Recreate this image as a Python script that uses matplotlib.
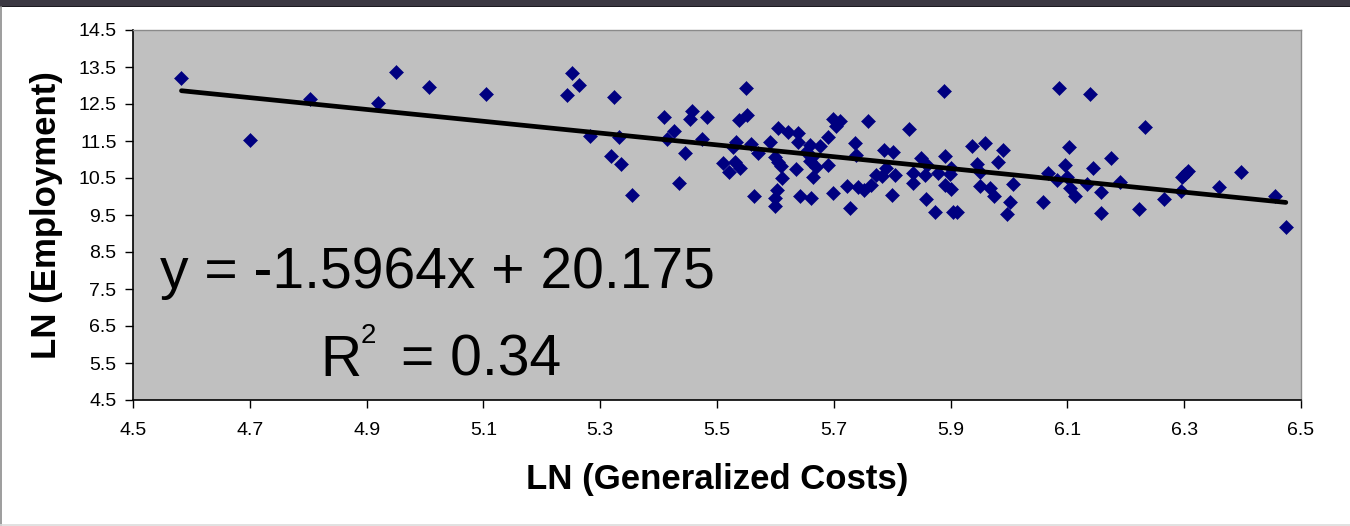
import numpy as np
import matplotlib
matplotlib.use("Agg")
import matplotlib.pyplot as plt
from matplotlib.patches import Rectangle

# ---- data: natural logs of generalized costs and employment ----
ln_costs = [
    4.583, 4.700, 4.803, 4.920, 4.950, 5.007, 5.105, 5.243, 5.252, 5.263,
    5.283, 5.318, 5.324, 5.333, 5.336, 5.354, 5.409, 5.415, 5.426, 5.435,
    5.445, 5.453, 5.457, 5.475, 5.483, 5.510, 5.521, 5.528, 5.531, 5.539,
    5.533, 5.538, 5.551, 5.549, 5.559, 5.564, 5.571, 5.590, 5.599, 5.605,
    5.610, 5.612, 5.602, 5.599, 5.599, 5.604, 5.622, 5.639, 5.638, 5.636,
    5.642, 5.661, 5.653, 5.659, 5.662, 5.659, 5.670, 5.665, 5.676, 5.690,
    5.690, 5.698, 5.704, 5.711, 5.698, 5.722, 5.727, 5.736, 5.738, 5.742,
    5.751, 5.759, 5.763, 5.772, 5.783, 5.786, 5.790, 5.799, 5.802, 5.805,
    5.828, 5.835, 5.835, 5.850, 5.859, 5.856, 5.858, 5.873, 5.879, 5.888,
    5.891, 5.890, 5.900, 5.901, 5.899, 5.904, 5.911, 5.936, 5.946, 5.950,
    5.950, 5.959, 5.967, 5.974, 5.982, 5.989, 5.997, 6.002, 6.007, 6.058,
    6.067, 6.082, 6.086, 6.096, 6.099, 6.102, 6.105, 6.113, 6.134, 6.139,
    6.144, 6.157, 6.157, 6.175, 6.190, 6.222, 6.233, 6.266, 6.294, 6.297,
    6.301, 6.307, 6.360, 6.397, 6.455, 6.474,
]
ln_employment = [
    13.21, 11.53, 12.64, 12.54, 13.37, 12.97, 12.77, 12.74, 13.33, 13.01,
    11.64, 11.09, 12.70, 11.62, 10.89, 10.05, 12.14, 11.55, 11.78, 10.37,
    11.17, 12.09, 12.31, 11.55, 12.14, 10.90, 10.65, 11.35, 10.94, 10.76,
    11.48, 12.07, 12.20, 12.94, 11.42, 10.01, 11.18, 11.46, 11.08, 10.94,
    10.82, 10.49, 10.18, 9.95, 9.74, 11.84, 11.74, 11.71, 11.48, 10.74,
    10.01, 9.97, 11.21, 11.39, 11.08, 10.97, 10.79, 10.52, 11.36, 11.62,
    10.85, 12.09, 11.91, 12.05, 10.09, 10.28, 9.70, 11.44, 11.12, 10.27,
    10.18, 12.05, 10.31, 10.58, 10.55, 11.26, 10.76, 10.04, 11.21, 10.58,
    11.82, 10.64, 10.37, 11.03, 10.85, 10.58, 9.92, 9.57, 10.63, 12.86,
    11.09, 10.31, 10.20, 10.76, 10.60, 9.57, 9.57, 11.36, 10.88, 10.67,
    10.29, 11.45, 10.22, 10.01, 10.94, 11.26, 9.53, 9.84, 10.33, 9.84,
    10.63, 10.45, 12.93, 10.85, 10.54, 11.33, 10.22, 10.01, 10.33, 12.77,
    10.78, 10.13, 9.56, 11.05, 10.40, 9.65, 11.89, 9.93, 10.15, 10.54,
    10.61, 10.69, 10.25, 10.65, 10.02, 9.18,
]

# linear trend reported on the chart
slope = -1.5964
intercept = 20.175
r_squared = 0.34

x_ticks = [4.5, 4.7, 4.9, 5.1, 5.3, 5.5, 5.7, 5.9, 6.1, 6.3, 6.5]
y_ticks = [4.5, 5.5, 6.5, 7.5, 8.5, 9.5, 10.5, 11.5, 12.5, 13.5, 14.5]

FONT = ["Liberation Sans", "DejaVu Sans"]
plt.rcParams["font.family"] = FONT

W, H = 1350, 526
fig = plt.figure(figsize=(W / 100, H / 100), dpi=100)
fig.patch.set_facecolor("white")

# window strip along the top and light frame lines
fig.patches.append(Rectangle((0, 1 - 7 / H), 1, 7 / H, transform=fig.transFigure,
                             facecolor="#3b3842", edgecolor="none", zorder=0))
fig.patches.append(Rectangle((0, 1 - 7 / H), 1, 1.5 / H, transform=fig.transFigure,
                             facecolor="#1c1a20", edgecolor="none", zorder=0))
fig.add_artist(plt.Line2D([0.6 / W, 0.6 / W], [0, 1 - 7 / H], transform=fig.transFigure,
                          color="#8c8c8c", lw=1.2))
fig.add_artist(plt.Line2D([0, 1], [1.5 / H, 1.5 / H], transform=fig.transFigure,
                          color="#dcdcdc", lw=1.2))

left, right, top, bottom = 133, 1301, 30, 400
ax = fig.add_axes([left / W, 1 - bottom / H, (right - left) / W, (bottom - top) / H])
ax.set_facecolor("#c0c0c0")
ax.set_xlim(4.5, 6.5)
ax.set_ylim(4.5, 14.5)

ax.plot(ln_costs, ln_employment, linestyle="none", marker="D", markersize=7.0,
        markerfacecolor="#000080", markeredgecolor="#000080", markeredgewidth=0.4,
        zorder=3)

xs = np.array([min(ln_costs), max(ln_costs)])
ax.plot(xs, slope * xs + intercept, color="black", lw=3.4, solid_capstyle="round",
        zorder=4)

ax.set_xticks(x_ticks)
ax.set_xticklabels([f"{v:.1f}" for v in x_ticks])
ax.set_yticks(y_ticks)
ax.set_yticklabels([f"{v:.1f}" for v in y_ticks])
ax.tick_params(axis="both", direction="out", length=5.8, width=1.0, colors="black",
               labelsize=14)
ax.tick_params(axis="x", pad=10)
ax.tick_params(axis="y", pad=6)

for side in ("top", "right"):
    ax.spines[side].set_color("#8a8a8a")
    ax.spines[side].set_linewidth(1.0)
for side in ("left", "bottom"):
    ax.spines[side].set_color("black")
    ax.spines[side].set_linewidth(1.2)

ax.set_xlabel("LN (Generalized Costs)", fontsize=25, fontweight="bold", labelpad=17)
ax.set_ylabel("LN (Employment)", fontsize=25, fontweight="bold", labelpad=11)

# regression annotation
def px(xp, yp):
    return xp / W, 1 - yp / H

fig.text(*px(160, 288), f"y = {slope}x + {intercept}", fontsize=41, ha="left",
         va="baseline", zorder=5)
fig.text(*px(320, 376), "R", fontsize=41, ha="left", va="baseline", zorder=5)
fig.text(*px(361, 343), "2", fontsize=20, ha="left", va="baseline", zorder=5)
fig.text(*px(401, 376), f"= {r_squared}", fontsize=41, ha="left", va="baseline",
         zorder=5)

fig.savefig("out.png", dpi=100, facecolor=fig.get_facecolor())
